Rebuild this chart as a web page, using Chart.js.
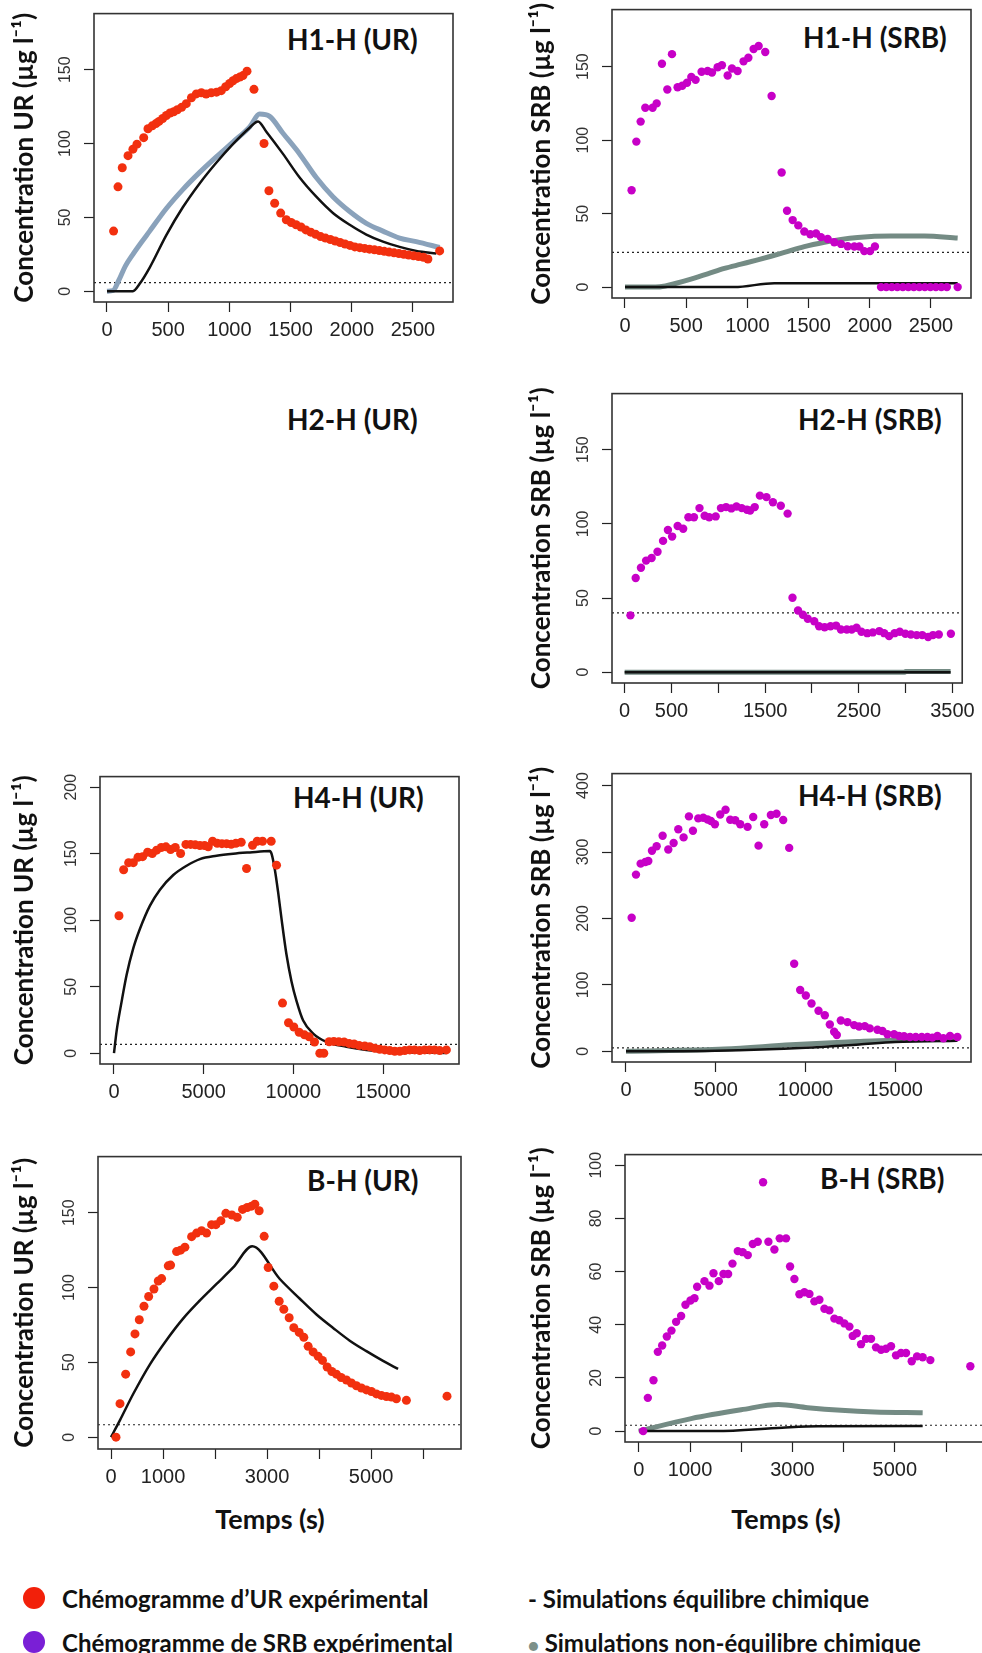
<!DOCTYPE html>
<html lang="fr">
<head>
<meta charset="utf-8">
<script src="https://cdn.jsdelivr.net/npm/chart.js@4/dist/chart.umd.min.js"></script>
<style>
  html, body { margin: 0; padding: 0; background: #fff; }
  body { position: relative; width: 982px; height: 1653px; overflow: hidden; }
  canvas { position: absolute; }
  .ttl { position: absolute; font: bold 28px Lato, 'Noto Sans', sans-serif; color: #111; white-space: nowrap; transform: translateY(-50%); }
  .xlab { position: absolute; font: bold 27px Lato, 'Noto Sans', sans-serif; color: #111; white-space: nowrap; transform: translate(-50%, -50%); }
  .leg { position: absolute; font: bold 24px Lato, 'Noto Sans', sans-serif; color: #111; white-space: nowrap; transform: translateY(-50%); }
  .dot { position: absolute; width: 22px; height: 22px; border-radius: 50%; transform: translate(-50%, -50%); }
</style>
</head>
<body>

<div class="ttl" style="left:287px; top:39px">H1-H (UR)</div>
<div class="ttl" style="left:803px; top:37px">H1-H (SRB)</div>
<div class="ttl" style="left:287px; top:419px">H2-H (UR)</div>
<div class="ttl" style="left:798px; top:419px">H2-H (SRB)</div>
<div class="ttl" style="left:293px; top:797px">H4-H (UR)</div>
<div class="ttl" style="left:798px; top:795px">H4-H (SRB)</div>
<div class="ttl" style="left:307px; top:1180px">B-H (UR)</div>
<div class="ttl" style="left:820px; top:1178px">B-H (SRB)</div>

<div class="xlab" style="left:270px; top:1518px">Temps (s)</div>
<div class="xlab" style="left:786px; top:1518px">Temps (s)</div>

<div class="dot" style="left:34px; top:1598px; background:#f2200a"></div>
<div class="leg" style="left:62px; top:1598px">Chémogramme d’UR expérimental</div>
<div class="dot" style="left:34px; top:1642px; background:#7a1fd6"></div>
<div class="leg" style="left:62px; top:1642px">Chémogramme de SRB expérimental</div>
<div class="leg" style="left:528px; top:1598px">- Simulations équilibre chimique</div>
<div class="leg" style="left:528px; top:1642px"><span style="color:#7d918a; font-size:18px">●</span> Simulations non-équilibre chimique</div>

<script>
// ---- H1-H (UR) ----
const h1UrTime = [54, 90, 125, 172, 212, 245, 300, 335, 370, 400, 425, 455, 485, 515, 545, 575, 610, 648, 690, 730,
  771, 810, 852, 895, 934, 970, 1002, 1030, 1057, 1085, 1111, 1144, 1201, 1283, 1323, 1370, 1419, 1465, 1505, 1545,
  1585, 1625, 1665, 1705, 1745, 1785, 1825, 1865, 1905, 1945, 1985, 2025, 2065, 2105, 2145, 2185, 2225, 2265, 2305, 2345,
  2385, 2425, 2465, 2505, 2545, 2585, 2622, 2718];
const h1UrConc = [40.7, 70.7, 83.6, 91.8, 96.2, 99.6, 104, 110, 112, 113.5, 115, 117, 119, 120.7, 121.5, 122.9, 124.5, 127, 131, 133.6,
  134.4, 133.5, 134.4, 134.8, 135.8, 138.5, 140.7, 142.5, 144, 145, 146, 149, 136.7, 100, 68, 59.6, 52.9, 48.4, 46.5, 45,
  43.5, 41.5, 40, 38.5, 37, 36, 35, 34, 33, 32, 31, 30, 29.5, 29, 28.5, 28, 27.5, 27, 26.5, 26,
  25.5, 25, 24.5, 24, 23.5, 23, 21.8, 27.3];
const h1UrEqTime = [0, 212, 267, 349, 485, 621, 757, 893, 1029, 1166, 1234, 1302, 1438, 1574, 1710, 1846, 1983, 2119, 2255, 2391, 2527, 2691];
const h1UrEqConc = [0, 0, 5, 16, 38, 57, 73, 87, 99.6, 110.7, 115, 108, 93, 77, 64, 53, 45, 38.4, 33.6, 30, 27.3, 25.6];
const h1UrNeqTime = [0, 50, 100, 150, 212, 280, 349, 485, 621, 757, 893, 1029, 1166, 1247, 1329, 1438, 1574, 1710, 1846, 1983, 2119, 2255, 2391, 2527, 2718];
const h1UrNeqConc = [0, 0.5, 8, 17, 25, 33, 40.7, 56, 69, 80.5, 91, 101, 111.3, 120, 118.4, 107, 93, 77, 64, 54, 46, 40.7, 36, 33.6, 29.6];
const h1UrLimit = 5.8;

// ---- H1-H (SRB) ----
const h1SrbTime = [54, 93, 128, 166, 226, 259, 302, 346, 384, 430, 468, 507, 542, 577, 626, 675, 711, 757, 792, 839,
  874, 920, 969, 1008, 1051, 1092, 1146, 1198, 1280, 1324, 1370, 1416, 1465, 1514, 1561, 1601, 1656, 1710, 1765, 1819,
  1874, 1915, 1955, 2002, 2042, 2092, 2135, 2180, 2225, 2270, 2315, 2360, 2405, 2450, 2495, 2540, 2585, 2630, 2718];
const h1SrbConc = [65.9, 99, 112.6, 122, 122, 125, 152, 134.4, 158.5, 136, 137, 139, 143, 141, 146.5, 147, 146, 149.6, 151, 144,
  148.7, 147, 153.6, 156, 162, 164, 160, 130, 78, 52, 45.6, 42, 37.8, 36, 36.5, 34, 32.7, 30.5, 29.4, 27.8,
  27.6, 27.6, 24.5, 24.5, 27.6, 0, 0, 0, 0, 0, 0, 0, 0, 0, 0, 0, 0, 0, 0];
const h1SrbEqTime = [0, 893, 1220, 2718];
const h1SrbEqConc = [0, 0, 2.7, 2.7];
const h1SrbNeqTime = [0, 250, 330, 403, 539, 675, 812, 948, 1084, 1193, 1302, 1465, 1629, 1765, 1901, 2173, 2446, 2718];
const h1SrbNeqConc = [0, 0, 0.8, 2.3, 5.5, 9, 12.7, 15.6, 18.5, 21, 23.6, 27.5, 30.5, 32.5, 33.8, 34.7, 34.7, 33.4];
const h1SrbLimit = 23.6;

// ---- H2-H (SRB) ----
const h2SrbTime = [62, 118, 174, 229, 288, 351, 410, 462, 507, 566, 625, 681, 740, 799, 854, 903, 972, 1028, 1083, 1139,
  1194, 1250, 1306, 1340, 1389, 1444, 1514, 1583, 1667, 1740, 1792, 1851, 1903, 1955, 2024, 2076, 2135, 2198, 2257, 2309,
  2372, 2424, 2476, 2528, 2590, 2649, 2719, 2771, 2823, 2882, 2937, 2997, 3056, 3118, 3177, 3240, 3292, 3354, 3483];
const h2SrbConc = [38.3, 63.5, 70.4, 75.2, 77, 81.2, 88.5, 95.8, 91.4, 98.5, 96.7, 104.4, 104.4, 110.6, 105.5, 104.4, 105, 110.6, 111.3, 110.4,
  111.7, 110.6, 109.5, 109, 111.3, 119, 118, 114.6, 112.2, 106.9, 50.2, 41.6, 38.7, 36, 34.3, 31, 30.3, 31, 31.4, 28.8,
  28.8, 28.8, 29.9, 27.2, 26.3, 26.8, 27.7, 26.3, 24.3, 26.3, 27.2, 25.9, 25.4, 25, 25, 23.7, 25, 25.4, 25.9];
const h2SrbEqTime = [0, 3480];
const h2SrbEqConc = [0, 0];
const h2SrbNeqTime = [0, 2990, 3000, 3480];
const h2SrbNeqConc = [0, 0, 0.4, 0.4];
const h2SrbLimit = 40;

// ---- H4-H (UR) ----
const h4UrTime = [278, 538, 817, 1077, 1337, 1596, 1875, 2135, 2376, 2636, 2896, 3156, 3416, 3713, 4010, 4270, 4529, 4789, 5049, 5253,
  5495, 5755, 6015, 6274, 6534, 6794, 7091, 7388, 7722, 7982, 8279, 8762, 9059, 9393, 9727, 10024, 10321, 10618, 10878, 11175,
  11472, 11695, 11992, 12252, 12530, 12827, 13106, 13384, 13663, 13978, 14257, 14535, 14813, 15092, 15370, 15649, 15927, 16206, 16484, 16763,
  17041, 17320, 17598, 17877, 18155, 18526];
const h4UrConc = [103.4, 138, 143.3, 143.3, 147.3, 147.8, 151.2, 150.2, 152.7, 154.7, 155.2, 153.2, 154.7, 150.2, 157, 157, 156.7, 156.2, 156.2, 155.2,
  159.4, 157.9, 157.6, 157.6, 157.1, 157.9, 158.6, 138.9, 156.4, 159.4, 159.4, 159.4, 141.4, 37.7, 22.9, 19.7, 15.8, 13.8, 12.3, 8.4,
  0, 0, 8.6, 8.9, 8.6, 8.4, 7.4, 6.9, 5.9, 5.4, 4.9, 3.7, 3, 2.5, 2, 1.5, 1.5, 2, 2.5, 2.5,
  2, 2.5, 2.5, 2.5, 2, 2.5];
const h4UrEqTime = [0, 149, 427, 705, 1077, 1448, 2005, 2562, 3304, 4047, 4789, 5718, 6646, 7574, 8688, 8780, 8966, 9152, 9338, 9616,
  9894, 10172, 10544, 11101, 11843, 12957, 14071, 15927, 18526];
const h4UrEqConc = [0, 17, 39, 59, 79, 93.6, 111, 123, 134, 141, 146, 148.5, 150, 151, 152, 150, 138, 120.7, 101, 74,
  54, 39.4, 24.6, 14.8, 8.6, 4.9, 2.5, 0.7, 0.2];
const h4UrLimit = 6.6;

// ---- H4-H (SRB) ----
const h4SrbTime = [316, 557, 817, 1077, 1244, 1448, 1708, 2042, 2358, 2655, 2915, 3211, 3508, 3731, 4028, 4307, 4548, 4734, 4956, 5253,
  5550, 5810, 6089, 6368, 6776, 7091, 7388, 7704, 8075, 8391, 8762, 9096, 9374, 9708, 10024, 10340, 10730, 11082, 11361, 11602,
  11751, 11974, 12345, 12716, 12994, 13310, 13588, 14015, 14294, 14572, 14943, 15222, 15500, 15834, 16150, 16484, 16800, 17078, 17357, 17691,
  18062, 18470];
const h4SrbConc = [201, 266, 282.5, 285, 286.4, 302, 308.6, 324.4, 303.7, 313.6, 334.3, 322, 353.6, 331.9, 350.6, 351.6, 349, 346.7, 341.7, 356.5,
  363.5, 348.6, 347.7, 341.7, 337.8, 352.6, 309.6, 341.7, 355.6, 357.5, 348.1, 306.2, 131.9, 92.3, 84, 72.1, 61.2, 54.3, 40.5, 29.6,
  24.7, 46.4, 44, 39.5, 37.5, 38, 34.6, 32.6, 30.6, 25.7, 25.7, 23.2, 22.7, 21.7, 21.7, 21.7, 21.7, 20.7, 23.2, 19.8,
  23.2, 21.7];
const h4SrbEqTime = [0, 5000, 10000, 13000, 15000, 18470];
const h4SrbEqConc = [0, 1, 5.5, 10.5, 14, 16];
const h4SrbNeqTime = [0, 5476, 9189, 12901, 14758, 18470];
const h4SrbNeqConc = [0, 3.5, 9.9, 14.8, 16.8, 17.8];
const h4SrbLimit = 5.4;

// ---- B-H (UR) ----
const bhUrTime = [96, 173, 282, 378, 461, 544, 634, 724, 826, 909, 973, 1101, 1146, 1261, 1338, 1421, 1550, 1646, 1742, 1838,
  1934, 2017, 2113, 2209, 2324, 2427, 2529, 2619, 2702, 2766, 2849, 2945, 3022, 3131, 3234, 3323, 3426, 3515, 3618, 3708,
  3791, 3887, 3983, 4066, 4156, 4246, 4335, 4425, 4527, 4623, 4719, 4815, 4911, 5007, 5103, 5199, 5296, 5392, 5488, 5680,
  6461];
const bhUrConc = [0, 22.4, 42.1, 57, 69, 78.5, 87.5, 94, 99, 104.4, 106, 114.5, 115, 124, 125, 127, 134, 136.4, 138, 136.4,
  142, 142, 144.7, 149.6, 148.5, 147, 152.2, 153.5, 154.4, 155.7, 151.3, 134.2, 113.4, 100.9, 90.8, 85.5, 79.8, 73.2, 70, 66.7,
  60.7, 57, 54, 51.3, 46.9, 43.9, 42.1, 39.9, 38.2, 36.2, 34.4, 32.9, 31.6, 30.5, 28.9, 27.9, 27.2, 26.8, 25.7, 24.6,
  27.4];
const bhUrEqTime = [0, 173, 429, 749, 1069, 1390, 1710, 2030, 2350, 2715, 3246, 3631, 3951, 4271, 4591, 4911, 5231, 5520];
const bhUrEqConc = [0, 11.4, 29, 48.7, 65, 79.4, 91.4, 102.4, 113.4, 127.6, 105.7, 92.5, 82, 73, 64.5, 57.5, 51, 45.6];
const bhUrLimit = 8.3;

// ---- B-H (SRB) ----
const bhSrbTime = [85, 176, 286, 371, 456, 547, 638, 729, 826, 911, 1009, 1087, 1139, 1282, 1380, 1458, 1562, 1653, 1744, 1829,
  1933, 2030, 2128, 2226, 2323, 2427, 2531, 2648, 2752, 2876, 2954, 3039, 3137, 3234, 3332, 3429, 3527, 3625, 3722, 3820,
  3917, 4015, 4113, 4178, 4256, 4340, 4438, 4536, 4633, 4731, 4828, 4926, 5024, 5121, 5219, 5330, 5434, 5544, 5694, 6475];
const bhSrbConc = [0, 12.5, 19.1, 29.8, 32.2, 35.6, 37.8, 41.1, 43.3, 47.5, 49.1, 50, 54.3, 56.4, 54.7, 59.4, 56.4, 59.1, 59.1, 63,
  67.7, 67.3, 66.2, 70.4, 71.2, 93.6, 71.2, 68.3, 72.5, 72.5, 61.9, 57.2, 51.5, 52.2, 51.6, 48.8, 49.4, 46, 45.4, 42.3,
  41.7, 40.5, 39.3, 35.8, 36.8, 32.7, 34.7, 34.7, 31.5, 30.6, 31, 31.9, 28.5, 29.4, 29.4, 26.3, 28.1, 27.8, 26.7, 24.4];
const bhSrbEqTime = [0, 1500, 2800, 3500, 5544];
const bhSrbEqConc = [0, 0, 1.3, 1.8, 1.9];
const bhSrbNeqTime = [0, 1022, 1998, 2727, 3299, 3950, 4601, 5544];
const bhSrbNeqConc = [0, 4.7, 8, 10, 8.8, 7.8, 7.2, 6.9];
const bhSrbLimit = 2.2;

// ---- graduations ----
const xTicks2500 = [0, 500, 1000, 1500, 2000, 2500];
const xTicks3500 = [0, 500, 1000, 1500, 2000, 2500, 3000, 3500];
const xLabels3500 = [0, 500, 1500, 2500, 3500];
const xTicks15000 = [0, 5000, 10000, 15000];
const xTicks6000 = [0, 1000, 2000, 3000, 4000, 5000, 6000];
const xLabels6000 = [0, 1000, 3000, 5000];
const yTicks150 = [0, 50, 100, 150];
const yTicks200 = [0, 50, 100, 150, 200];
const yTicks400 = [0, 100, 200, 300, 400];
const yTicks100 = [0, 20, 40, 60, 80, 100];

const redPt = '#f2300f';
const magentaPt = '#c700c7';
const eqColor = '#111111';
const neqBlue = '#8aa2bb';
const neqGray = '#748b84';

function pts(ts, cs) {
  return ts.map((t, i) => ({ x: t, y: cs[i] }));
}

// cadre + ligne pointillée (limite)
const rFrame = {
  id: 'rFrame',
  beforeDatasetsDraw(chart, args, opts) {
    const { ctx, chartArea: a, scales } = chart;
    const py = scales.y.getPixelForValue(opts.limit);
    ctx.save();
    ctx.beginPath();
    ctx.rect(a.left, a.top, a.width, a.height);
    ctx.clip();
    ctx.setLineDash([2, 3]);
    ctx.lineWidth = 1.2;
    ctx.strokeStyle = '#222';
    ctx.beginPath();
    ctx.moveTo(a.left, py);
    ctx.lineTo(a.right, py);
    ctx.stroke();
    ctx.restore();
  },
  afterDraw(chart) {
    const { ctx, chartArea: a } = chart;
    ctx.save();
    ctx.lineWidth = 1.6;
    ctx.strokeStyle = '#333';
    ctx.strokeRect(a.left, a.top, a.width, a.height);
    ctx.restore();
  }
};

function makePanel(p) {
  const left = p.side === 'UR' ? 0 : 500;
  const top = p.box[1] - 10;
  const w = p.box[2] + 10 - left;
  const h = p.box[3] + 50 - top;
  const yw = p.box[0] - left;
  const titleX = p.side === 'UR' ? 25 : 542;

  const cv = document.createElement('canvas');
  cv.width = w;
  cv.height = h;
  cv.style.left = left + 'px';
  cv.style.top = top + 'px';
  cv.style.width = w + 'px';
  cv.style.height = h + 'px';
  document.body.appendChild(cv);

  const datasets = [{
    type: 'scatter',
    data: pts(p.time, p.conc),
    backgroundColor: p.color,
    borderWidth: 0,
    pointRadius: p.radius,
    order: 0
  }];
  if (p.eqTime) {
    datasets.push({
      type: 'line',
      data: pts(p.eqTime, p.eqConc),
      borderColor: eqColor,
      borderWidth: 2.5,
      pointRadius: 0,
      cubicInterpolationMode: 'monotone',
      order: 1
    });
  }
  if (p.neqTime) {
    datasets.push({
      type: 'line',
      data: pts(p.neqTime, p.neqConc),
      borderColor: p.neqColor,
      borderWidth: 5,
      pointRadius: 0,
      cubicInterpolationMode: 'monotone',
      order: 2
    });
  }

  new Chart(cv, {
    data: { datasets },
    options: {
      responsive: false,
      animation: false,
      layout: { padding: { left: 0, top: 10, right: 10, bottom: 0 } },
      plugins: { legend: { display: false }, tooltip: { enabled: false }, rFrame: { limit: p.limit } },
      scales: {
        x: {
          type: 'linear',
          min: p.xRange[0],
          max: p.xRange[1],
          afterBuildTicks: s => { s.ticks = p.xTicks.map(v => ({ value: v })); },
          afterFit: s => { s.height = 50; },
          grid: { drawOnChartArea: false, drawTicks: true, tickLength: 10, tickColor: '#222', tickWidth: 1.2 },
          border: { display: false },
          ticks: {
            autoSkip: false,
            maxRotation: 0,
            padding: 6,
            color: '#222',
            font: { family: "'Liberation Sans Narrow', 'Liberation Sans', Arial, sans-serif", size: 20 },
            callback: v => (p.xLabels || p.xTicks).includes(v) ? String(v) : ''
          }
        },
        y: {
          type: 'linear',
          min: p.yRange[0],
          max: p.yRange[1],
          afterBuildTicks: s => { s.ticks = p.yTicks.map(v => ({ value: v })); },
          afterFit: s => { s.width = yw; },
          grid: { drawOnChartArea: false, drawTicks: true, tickLength: 10, tickColor: '#222', tickWidth: 1.2 },
          border: { display: false },
          title: {
            display: true,
            text: p.side === 'UR' ? 'Concentration UR (µg l⁻¹)' : 'Concentration SRB (µg l⁻¹)',
            color: '#111',
            font: { family: "Lato, 'Noto Sans', sans-serif", size: 26, weight: 'bold' },
            padding: { top: titleX - left - 15.6, bottom: 0 }
          },
          ticks: {
            autoSkip: false,
            minRotation: 90,
            maxRotation: 90,
            crossAlign: 'center',
            padding: 5,
            color: '#333',
            font: { family: "'Liberation Sans', Arial, sans-serif", size: 16 },
            callback: v => String(v)
          }
        }
      }
    },
    plugins: [rFrame]
  });
}

const panels = [
  { side: 'UR', box: [94, 9, 453, 302], xRange: [-106, 2827], yRange: [-7.3, 188], xTicks: xTicks2500, yTicks: yTicks150,
    time: h1UrTime, conc: h1UrConc, color: redPt, radius: 4.5,
    eqTime: h1UrEqTime, eqConc: h1UrEqConc, neqTime: h1UrNeqTime, neqConc: h1UrNeqConc, neqColor: neqBlue, limit: h1UrLimit },
  { side: 'SRB', box: [612, 5, 971, 298], xRange: [-106, 2827], yRange: [-7.4, 188.8], xTicks: xTicks2500, yTicks: yTicks150,
    time: h1SrbTime, conc: h1SrbConc, color: magentaPt, radius: 4.2,
    eqTime: h1SrbEqTime, eqConc: h1SrbEqConc, neqTime: h1SrbNeqTime, neqConc: h1SrbNeqConc, neqColor: neqGray, limit: h1SrbLimit },
  { side: 'SRB', box: [612, 389, 971, 683], xRange: [-135, 3604], yRange: [-7.3, 187.8], xTicks: xTicks3500, xLabels: xLabels3500, yTicks: yTicks150,
    time: h2SrbTime, conc: h2SrbConc, color: magentaPt, radius: 4.2,
    eqTime: h2SrbEqTime, eqConc: h2SrbEqConc, neqTime: h2SrbNeqTime, neqConc: h2SrbNeqConc, neqColor: neqGray, limit: h2SrbLimit },
  { side: 'UR', box: [100, 772, 459, 1064], xRange: [-780, 19230], yRange: [-8.1, 208], xTicks: xTicks15000, yTicks: yTicks200,
    time: h4UrTime, conc: h4UrConc, color: redPt, radius: 4.5,
    eqTime: h4UrEqTime, eqConc: h4UrEqConc, limit: h4UrLimit },
  { side: 'SRB', box: [612, 769, 971, 1062], xRange: [-780, 19230], yRange: [-16, 418], xTicks: xTicks15000, yTicks: yTicks400,
    time: h4SrbTime, conc: h4SrbConc, color: magentaPt, radius: 4.2,
    eqTime: h4SrbEqTime, eqConc: h4SrbEqConc, neqTime: h4SrbNeqTime, neqConc: h4SrbNeqConc, neqColor: neqGray, limit: h4SrbLimit },
  { side: 'UR', box: [98, 1152, 461, 1449], xRange: [-250, 6730], yRange: [-7.9, 187.5], xTicks: xTicks6000, xLabels: xLabels6000, yTicks: yTicks150,
    time: bhUrTime, conc: bhUrConc, color: redPt, radius: 4.5,
    eqTime: bhUrEqTime, eqConc: bhUrEqConc, limit: bhUrLimit },
  { side: 'SRB', box: [625, 1150, 988, 1442], xRange: [-270, 6820], yRange: [-4.1, 104], xTicks: xTicks6000, xLabels: xLabels6000, yTicks: yTicks100,
    time: bhSrbTime, conc: bhSrbConc, color: magentaPt, radius: 4.2,
    eqTime: bhSrbEqTime, eqConc: bhSrbEqConc, neqTime: bhSrbNeqTime, neqConc: bhSrbNeqConc, neqColor: neqGray, limit: bhSrbLimit }
];

panels.forEach(makePanel);
</script>
</body>
</html>
